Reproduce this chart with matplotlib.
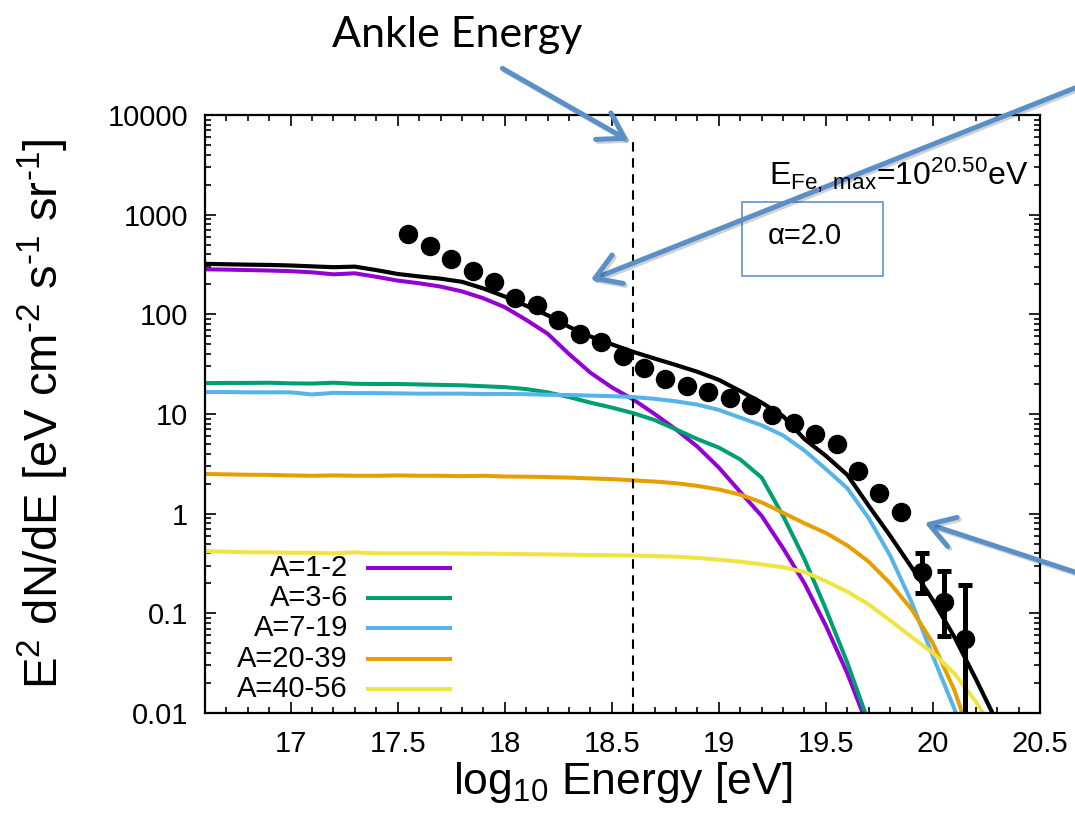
import numpy as np
import matplotlib
matplotlib.use("Agg")
import matplotlib.pyplot as plt
import matplotlib.patheffects as pe
from matplotlib.patches import FancyArrowPatch, Rectangle
from matplotlib.lines import Line2D
from matplotlib.ticker import FixedLocator, MultipleLocator, LogLocator, NullFormatter, FuncFormatter

plt.rcParams['font.family'] = ['Liberation Sans', 'DejaVu Sans']
plt.rcParams['mathtext.fontset'] = 'custom'
plt.rcParams['mathtext.rm'] = 'Liberation Sans'
plt.rcParams['mathtext.it'] = 'Liberation Sans:italic'
plt.rcParams['mathtext.default'] = 'regular'

# log10(E/eV) grid of the model curves
logE = [16.6, 16.7, 16.8, 16.9, 17.0, 17.1, 17.2, 17.3, 17.4, 17.5,
        17.6, 17.7, 17.8, 17.9, 18.0, 18.1, 18.2, 18.3, 18.4, 18.5,
        18.6, 18.7, 18.8, 18.9, 19.0, 19.1, 19.2, 19.3, 19.4, 19.5,
        19.6, 19.7, 19.8, 19.9, 20.0, 20.1, 20.2, 20.3]

# E^2 dN/dE for each mass group [eV cm^-2 s^-1 sr^-1]
flux_1_2 = [283, 281, 278, 275, 271, 264, 252, 258, 238, 218,
            205, 190, 170, 145, 118, 88, 64, 40, 26, 18.5,
            14, 10, 7.0, 4.7, 2.9, 1.65, 0.95, 0.45, 0.2, 0.075,
            0.025, 0.007, 0.002, 5e-4, 1e-4, 3e-5, 1e-5, 3e-6]
flux_3_6 = [20.4, 20.5, 20.5, 20.6, 20.3, 20.2, 20.6, 20.1, 20.0, 20.0,
            19.8, 19.6, 19.4, 19.0, 18.6, 17.8, 16.5, 14.8, 13.0, 11.6,
            10.2, 8.7, 7.0, 5.6, 4.6, 3.5, 2.3, 0.95, 0.35, 0.11,
            0.032, 0.008, 0.002, 5e-4, 1e-4, 3e-5, 1e-5, 3e-6]
flux_7_19 = [16.6, 16.6, 16.5, 16.5, 16.5, 15.7, 16.3, 16.2, 16.2, 16.1,
             16.0, 16.0, 16.0, 15.9, 15.9, 15.8, 15.6, 15.5, 15.3, 15.1,
             14.8, 14.2, 13.4, 12.4, 11.0, 9.2, 7.7, 6.1, 4.3, 2.8,
             1.8, 0.9, 0.38, 0.13, 0.037, 0.011, 0.003, 8e-4]
flux_20_39 = [2.50, 2.48, 2.46, 2.45, 2.42, 2.40, 2.42, 2.40, 2.40, 2.42,
              2.40, 2.40, 2.38, 2.40, 2.36, 2.35, 2.33, 2.30, 2.26, 2.22,
              2.16, 2.10, 2.02, 1.90, 1.75, 1.55, 1.30, 1.02, 0.80, 0.64,
              0.48, 0.33, 0.20, 0.11, 0.05, 0.017, 0.004, 8e-4]
flux_40_56 = [0.42, 0.415, 0.41, 0.41, 0.405, 0.405, 0.40, 0.41, 0.40, 0.40,
              0.40, 0.40, 0.398, 0.397, 0.395, 0.393, 0.39, 0.388, 0.385, 0.383,
              0.38, 0.375, 0.37, 0.36, 0.345, 0.33, 0.31, 0.29, 0.26, 0.21,
              0.165, 0.123, 0.085, 0.058, 0.04, 0.025, 0.013, 0.006]
flux_total = [321, 318, 315, 313, 309, 303, 297, 301, 278, 254,
              240, 228, 212, 182, 151, 122, 98, 75, 60, 50,
              42, 36, 31, 26.5, 22, 17, 13, 9.5, 5.6, 3.8,
              2.45, 1.2, 0.6, 0.29, 0.135, 0.058, 0.022, 0.008]

groups = ['A=1-2', 'A=3-6', 'A=7-19', 'A=20-39', 'A=40-56']
group_flux = [flux_1_2, flux_3_6, flux_7_19, flux_20_39, flux_40_56]
group_colors = ['#9400D3', '#009E73', '#56B4E9', '#E69F00', '#F0E442']

# measured spectrum
data_logE = [17.55, 17.65, 17.75, 17.85, 17.95, 18.05, 18.15, 18.25, 18.35,
             18.45, 18.55, 18.65, 18.75, 18.85, 18.95, 19.05, 19.15, 19.25,
             19.35, 19.45, 19.55, 19.65, 19.75, 19.85, 19.95, 20.05, 20.15]
data_flux = [635, 489, 357, 274, 210, 146, 124, 88, 63.6,
             52.5, 38.6, 28.8, 22.3, 19.1, 16.8, 14.4, 12.3, 9.8,
             8.2, 6.3, 5.0, 2.7, 1.61, 1.05, 0.262, 0.131, 0.0552]
# error bars of the highest-energy bins
err_logE = [19.95, 20.05, 20.15]
err_flux = [0.262, 0.131, 0.0552]
err_low = [0.16, 0.0586, 1e-4]
err_high = [0.40, 0.263, 0.193]

ankle_logE = 18.6
xticks = [17, 17.5, 18, 18.5, 19, 19.5, 20, 20.5]

W, H = 1075, 815
fig = plt.figure(figsize=(W / 100, H / 100), dpi=100)
ax = fig.add_axes([205 / W, 1 - 713 / H, 835 / W, 598 / H])


def fpx(x, y):
    # image pixel (from top-left) -> figure fraction
    return (x / W, 1 - y / H)


for name, flux, col in zip(groups, group_flux, group_colors):
    ax.plot(logE, flux, color=col, lw=2.9, solid_joinstyle='round')
ax.plot(logE, flux_total, color='black', lw=3.0, solid_joinstyle='round')

ax.plot(data_logE, data_flux, 'o', color='black', ms=13)
ylo = np.array(err_flux) - np.array(err_low)
yhi = np.array(err_high) - np.array(err_flux)
ax.errorbar(err_logE, err_flux, yerr=[ylo, yhi], fmt='none', ecolor='black',
            elinewidth=3.6, capsize=5, capthick=3.6)

ax.vlines(ankle_logE, 0.01, 5500, colors='black', lw=1.5,
          linestyles=(0, (4.5, 3.2)))

ax.set_yscale('log')
ax.set_xlim(16.6, 20.5)
ax.set_ylim(0.01, 10000)

ax.xaxis.set_major_locator(FixedLocator(xticks))
ax.xaxis.set_minor_locator(MultipleLocator(0.1))
ax.xaxis.set_major_formatter(FuncFormatter(lambda v, p: '%g' % v))
ax.yaxis.set_major_locator(LogLocator(base=10, numticks=20))
ax.yaxis.set_minor_locator(LogLocator(base=10, subs=np.arange(2, 10), numticks=20))
ax.yaxis.set_minor_formatter(NullFormatter())
ax.yaxis.set_major_formatter(FuncFormatter(lambda v, p: '%g' % v))

ax.tick_params(which='both', direction='in', top=True, right=True, width=1.2,
               labelsize=21)
ax.tick_params(which='major', length=8, pad=12)
ax.tick_params(which='minor', length=4)
for s in ax.spines.values():
    s.set_linewidth(1.6)

ax.set_xlabel(r'log$_{10}$ Energy [eV]', fontsize=32, labelpad=2)
ax.set_ylabel(r'E$^2$ dN/dE [eV cm$^{\text{-}2}$ s$^{\text{-}1}$ sr$^{\text{-}1}$]',
              fontsize=34, va='center')
ax.yaxis.set_label_coords((43 - 205) / 835, 0.5)

# key: label right-aligned, sample line to its right
for i, (name, col) in enumerate(zip(groups, group_colors)):
    yk = 568 + 30.2 * i
    fig.text(*fpx(348, yk), name, fontsize=21, ha='right', va='center')
    fig.add_artist(Line2D([368 / W, 450 / W], [1 - yk / H, 1 - yk / H],
                          color=col, lw=2.9))

fig.text(*fpx(769, 185), r'E$_{Fe,\ max}$=10$^{20.50}$eV', fontsize=23,
         ha='left', va='baseline')

# callouts
box = Rectangle(fpx(742, 276), 141 / W, 74 / H, transform=fig.transFigure,
                fill=False, edgecolor='#6C9BD2', lw=1.3)
fig.add_artist(box)
fig.text(*fpx(768, 236), 'α=2.0', fontsize=21, ha='left', va='center')
fig.text(*fpx(457, 47), 'Ankle Energy', fontsize=31, ha='center', va='baseline',
         family=['Lato', 'DejaVu Sans'])

arrow_col = '#5B8FC8'
for tail, head in [((500, 67), (631, 142)),
                   ((1090, 82), (588, 281)),
                   ((1090, 577), (922, 522))]:
    arr = FancyArrowPatch(fpx(*tail), fpx(*head), transform=fig.transFigure,
                          arrowstyle='->,head_length=0.8,head_width=0.5',
                          mutation_scale=22, color=arrow_col, lw=3.6,
                          joinstyle='round', capstyle='round',
                          path_effects=[pe.SimpleLineShadow(offset=(1.5, -1.5), alpha=0.18),
                                        pe.Normal()])
    fig.add_artist(arr)

fig.savefig('out.png', dpi=100)
